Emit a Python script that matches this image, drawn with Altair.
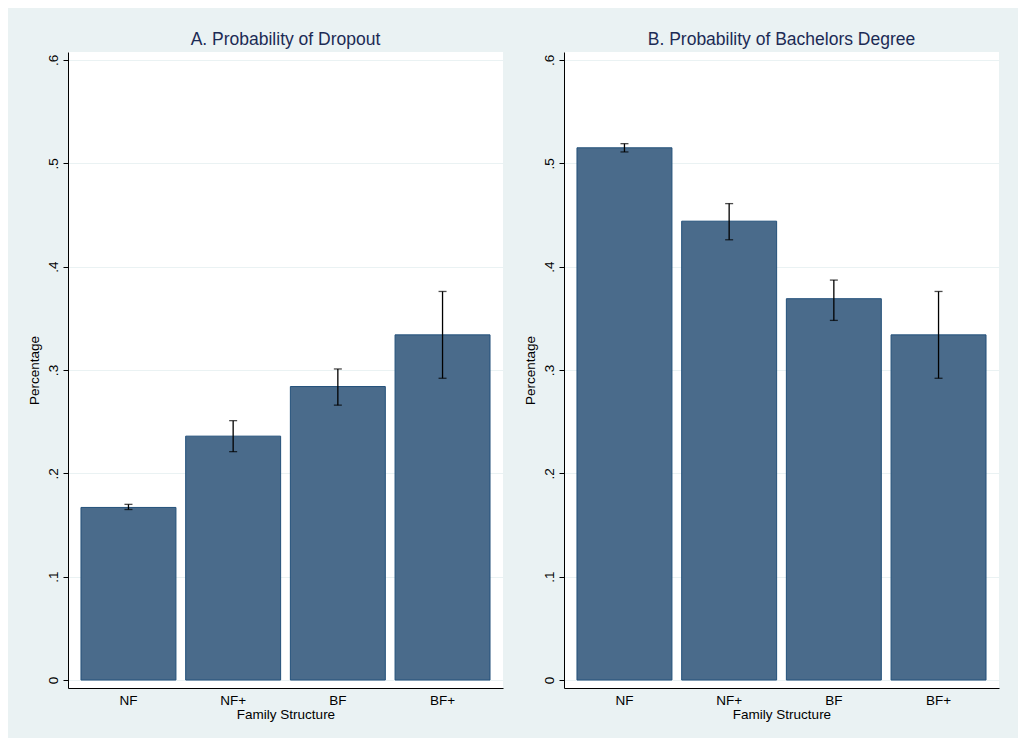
import altair as alt
import pandas as pd

categories = ["NF", "NF+", "BF", "BF+"]

dropout_mean = [0.167, 0.236, 0.284, 0.334]
dropout_lo = [0.165, 0.221, 0.266, 0.292]
dropout_hi = [0.170, 0.251, 0.301, 0.376]

bach_mean = [0.515, 0.444, 0.369, 0.334]
bach_lo = [0.511, 0.426, 0.348, 0.292]
bach_hi = [0.519, 0.461, 0.387, 0.376]

y_ticks = [0, 0.1, 0.2, 0.3, 0.4, 0.5, 0.6]

BAR_FILL = "#4A6B8B"
BAR_STROKE = "#23507A"
TITLE_COLOR = "#1C2B55"
FONT = "Liberation Sans"


def panel(title, mean, lo, hi):
    df = pd.DataFrame({"cat": categories, "value": mean, "lo": lo, "hi": hi})
    x = alt.X(
        "cat:N",
        sort=categories,
        title="Family Structure",
        scale=alt.Scale(paddingInner=0.093, paddingOuter=0.124),
        axis=alt.Axis(labelAngle=0, ticks=False, labelPadding=5, titlePadding=1,
                      domainColor="#000000", grid=False),
    )
    yscale = alt.Scale(domain=[-0.0077, 0.6077], nice=False, zero=False)
    y_axis = alt.Axis(
        values=y_ticks,
        labelAngle=270,
        labelAlign="center",
        labelBaseline="bottom",
        labelPadding=3,
        labelExpr="datum.value == 0 ? '0' : replace(format(datum.value, '.1f'), '0.', '.')",
        tickSize=5,
        tickColor="#000000",
        domainColor="#000000",
        grid=True,
        gridColor="#EAF2F3",
        gridWidth=1,
        titlePadding=5,
    )
    base = alt.Chart(df)
    bars = base.mark_bar(fill=BAR_FILL, stroke=BAR_STROKE, strokeWidth=1).encode(
        x=x,
        y=alt.Y("value:Q", scale=yscale, axis=y_axis, title="Percentage"),
    )
    rule = base.mark_rule(color="#000000", strokeWidth=1.3).encode(
        x=alt.X("cat:N", sort=categories),
        y=alt.Y("lo:Q"),
        y2="hi:Q",
    )
    cap_lo = base.mark_tick(color="#000000", size=8, thickness=1.3).encode(
        x=alt.X("cat:N", sort=categories), y="lo:Q"
    )
    cap_hi = base.mark_tick(color="#000000", size=8, thickness=1.3).encode(
        x=alt.X("cat:N", sort=categories), y="hi:Q"
    )
    return alt.layer(bars, rule, cap_lo, cap_hi).properties(
        width=435,
        height=636,
        title=alt.TitleParams(title, fontSize=17.5, font=FONT, color=TITLE_COLOR,
                              fontWeight="normal", offset=4, anchor="middle"),
    )


left = panel("A. Probability of Dropout", dropout_mean, dropout_lo, dropout_hi)
right = panel("B. Probability of Bachelors Degree", bach_mean, bach_lo, bach_hi)

chart = (
    alt.hconcat(left, right, spacing=20)
    .properties(padding={"left": 19, "top": 22, "right": 19, "bottom": 17})
    .configure(background="#EAF2F3", font=FONT)
    .configure_view(fill="white", stroke="transparent", strokeWidth=0)
    .configure_axis(labelFont=FONT, titleFont=FONT, labelFontSize=13.5, titleFontSize=13.5,
                    labelColor="#000000", titleColor="#000000", titleFontWeight="normal")
)

chart.save("out.html", embed_options={"renderer": "svg", "actions": False})
